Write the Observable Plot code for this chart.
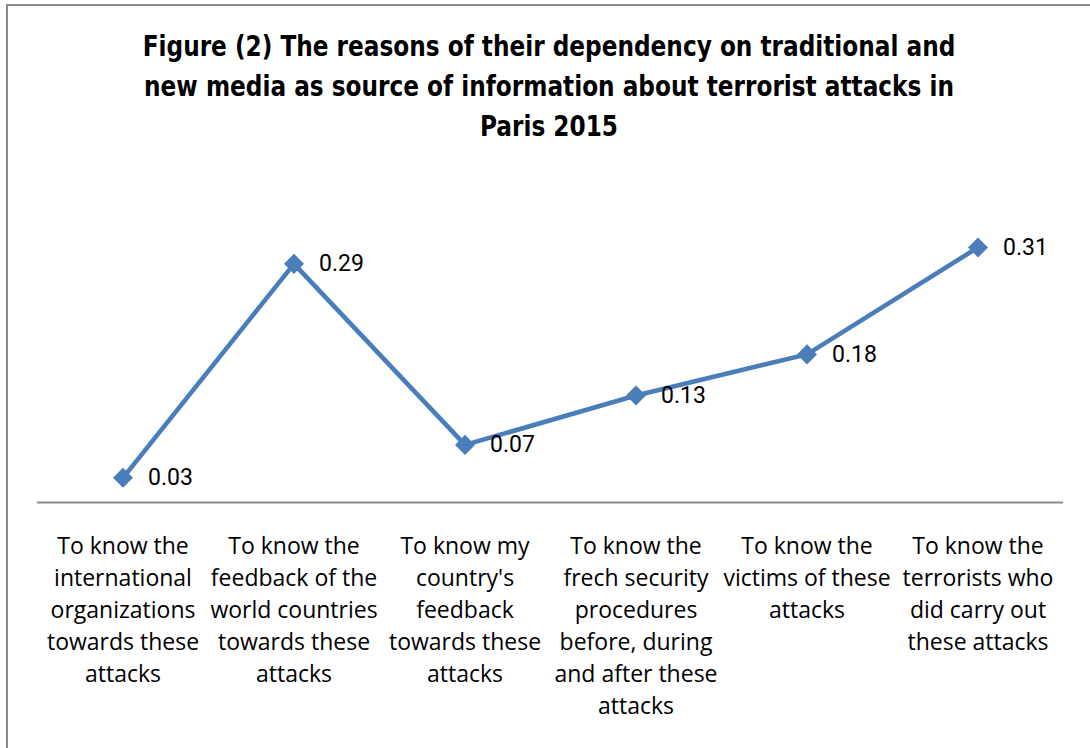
<!DOCTYPE html>
<html>
<head>
<meta charset="utf-8">
<script src="https://cdn.jsdelivr.net/npm/d3@7"></script>
<script src="https://cdn.jsdelivr.net/npm/@observablehq/plot@0.6"></script>
<style>
  html, body { margin: 0; padding: 0; background: #fff; overflow: hidden; }
  #wrap { position: relative; width: 1090px; height: 748px; overflow: hidden; }
  #frame { position: absolute; left: 6px; top: 4px; width: 1120px; height: 800px; border: 2px solid #8a8a8a; box-sizing: border-box; }
  #title { position: absolute; left: 0; top: 26px; width: 1098px; text-align: center;
    font-family: "DejaVu Sans Condensed", "DejaVu Sans", sans-serif; font-weight: bold;
    font-size: 29px; line-height: 40px; color: #000; transform: scaleX(0.89); transform-origin: 549px 0; }
  #chart { position: absolute; left: 0; top: 0; }
</style>
</head>
<body>
<div id="wrap">
  <div id="frame"></div>
  <div id="chart"></div>
  <div id="title">Figure (2) The reasons of their dependency on traditional and<br>new media as source of information about terrorist attacks in<br>Paris 2015</div>
</div>
<script>
const categories = [
  "To know the\ninternational\norganizations\ntowards these\nattacks",
  "To know the\nfeedback of the\nworld countries\ntowards these\nattacks",
  "To know my\ncountry's\nfeedback\ntowards these\nattacks",
  "To know the\nfrech security\nprocedures\nbefore, during\nand after these\nattacks",
  "To know the\nvictims of these\nattacks",
  "To know the\nterrorists who\ndid carry out\nthese attacks"
];
const values = [0.03, 0.29, 0.07, 0.13, 0.18, 0.31];
const valueLabels = ["0.03", "0.29", "0.07", "0.13", "0.18", "0.31"];

const data = categories.map((c, i) => ({category: c, value: values[i], label: valueLabels[i]}));
const blue = "#4a7ebb";

const chart = Plot.plot({
  width: 1090,
  height: 748,
  marginLeft: 37,
  marginRight: 27,
  marginTop: 214,
  marginBottom: 246,
  style: {background: "transparent"},
  x: {type: "band", domain: categories, padding: 0},
  y: {domain: [0, 0.35], axis: null},
  marks: [
    Plot.ruleY([0], {stroke: "#898989", strokeWidth: 2}),
    Plot.line(data, {x: "category", y: "value", stroke: blue, strokeWidth: 4.6, strokeLinejoin: "miter"}),
    Plot.dot(data, {x: "category", y: "value", symbol: "square", r: 8, rotate: 45, fill: blue, stroke: "none"}),
    Plot.text(data, {x: "category", y: "value", text: "label", dx: 25, textAnchor: "start", lineAnchor: "middle",
      fontSize: 23, fontFamily: "Roboto, sans-serif", fill: "#000"}),
    Plot.axisX({tickSize: 0, tickPadding: 29, label: null, fontSize: 23, lineHeight: 1.39,
      fontFamily: "'Open Sans', sans-serif", textAnchor: "middle", fill: "#000"})
  ]
});
document.getElementById("chart").appendChild(chart);
</script>
</body>
</html>
